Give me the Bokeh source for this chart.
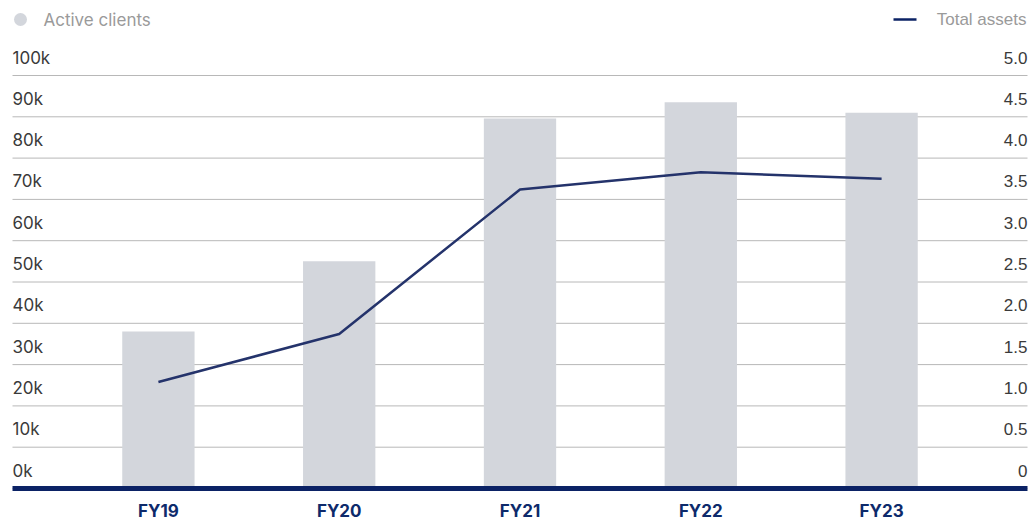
from bokeh.plotting import figure
from bokeh.models import Range1d
from bokeh.core.properties import value
from bokeh.embed import file_html
from bokeh.resources import INLINE

# ---- data ----
categories = ["FY19", "FY20", "FY21", "FY22", "FY23"]
active_clients_k = [38.0, 55.0, 89.6, 93.5, 91.0]
total_assets = [1.29, 1.87, 3.62, 3.83, 3.75]
left_ticks = [0, 10, 20, 30, 40, 50, 60, 70, 80, 90, 100]
left_tick_labels = ["0k", "10k", "20k", "30k", "40k", "50k", "60k", "70k", "80k", "90k", "100k"]
right_ticks = [0, 0.5, 1.0, 1.5, 2.0, 2.5, 3.0, 3.5, 4.0, 4.5, 5.0]
right_tick_labels = ["0", "0.5", "1.0", "1.5", "2.0", "2.5", "3.0", "3.5", "4.0", "4.5", "5.0"]

W, H = 1029, 523
# pixel geometry of the plotting frame
X_LEFT_PX, X_RIGHT_PX = 12, 1027
Y_ZERO_PX, Y_TOP_PX = 488, 75
X_PAD = 0.807
LEFT_MAX = 100.0
RIGHT_MAX = 5.0

xu = (X_RIGHT_PX - X_LEFT_PX) / (len(categories) - 1 + 2 * X_PAD)  # px per category
yu = (Y_ZERO_PX - Y_TOP_PX) / LEFT_MAX  # px per k
x0 = -X_PAD - X_LEFT_PX / xu
x1 = x0 + W / xu
y1 = LEFT_MAX + Y_TOP_PX / yu
y0 = y1 - H / yu


def px_x(px):
    return x0 + px / xu


def px_y(py):
    return y1 - py / yu


scale_r = LEFT_MAX / RIGHT_MAX

p = figure(width=W, height=H, output_backend="svg", toolbar_location=None,
           x_range=Range1d(x0, x1), y_range=Range1d(y0, y1),
           min_border=0, outline_line_color=None)
p.xaxis.visible = False
p.yaxis.visible = False
p.xgrid.visible = False
p.ygrid.visible = False
p.background_fill_color = "white"
p.border_fill_color = "white"

xs = list(range(len(categories)))

# gridlines
gx0, gx1 = px_x(X_LEFT_PX), px_x(X_RIGHT_PX)
p.segment(x0=[gx0] * len(left_ticks), x1=[gx1] * len(left_ticks),
          y0=left_ticks, y1=left_ticks, line_color="#b8b8b8", line_width=1)

# bars
p.vbar(x=xs, top=active_clients_k, bottom=0, width=0.40,
       fill_color="#d3d6dc", line_color=None)

# baseline
p.segment(x0=[gx0], x1=[gx1], y0=[0], y1=[0], line_color="#0b2265", line_width=5)

# line (right axis scaled)
p.line(x=xs, y=[v * scale_r for v in total_assets], line_color="#24336b",
       line_width=2.5, line_join="round")

font_l = value("Inter")
font_r = value("Liberation Sans")
# left tick labels
p.text(x=[gx0] * len(left_ticks), y=left_ticks, text=left_tick_labels,
       text_font=font_l, text_font_size="17px", text_color="#3a3a3a",
       text_align="left", text_baseline="middle", y_offset=-18)
# right tick labels
p.text(x=[gx1] * len(right_ticks), y=[t * scale_r for t in right_ticks],
       text=right_tick_labels, text_font=font_r, text_font_size="17px",
       text_color="#3a3a3a", text_align="right", text_baseline="middle", y_offset=-18)

# category labels
p.text(x=xs, y=[px_y(510)] * len(xs), text=categories, text_font=font_l,
       text_font_size="17px", text_font_style="bold", text_color="#0d2a6b",
       text_align="center", text_baseline="middle")

# legend
ly = px_y(19)
p.scatter(x=[px_x(20)], y=[ly], size=13, fill_color="#d3d6dc", line_color=None)
p.text(x=[px_x(43)], y=[ly], text=["Active clients"], text_font=font_l,
       text_font_size="17px", text_color="#9a9a9a", text_align="left",
       text_baseline="middle")
p.segment(x0=[px_x(893)], x1=[px_x(916)], y0=[ly], y1=[ly],
          line_color="#0b2265", line_width=2.5)
p.text(x=[px_x(1026)], y=[ly], text=["Total assets"], text_font=font_r,
       text_font_size="17px", text_color="#9a9a9a", text_align="right",
       text_baseline="middle")

open("out.html", "w").write(file_html(p, INLINE))
